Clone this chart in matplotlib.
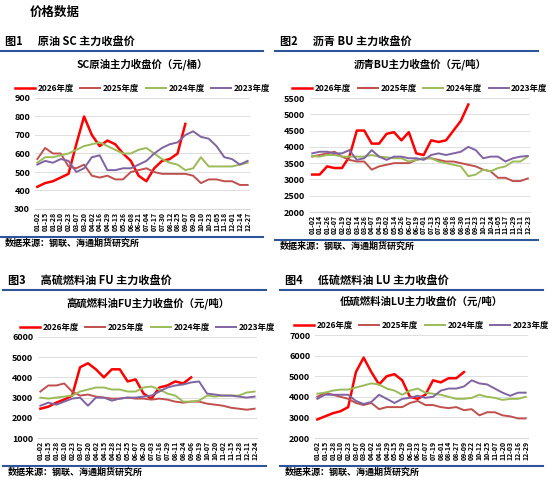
import matplotlib
matplotlib.use('Agg')
import matplotlib.pyplot as plt
from matplotlib.lines import Line2D
import numpy as np

plt.rcParams['font.family'] = ['Noto Sans CJK SC', 'DejaVu Sans']

# ---- data (values read at each tick date) ----
sc_ticks = ['01-02','01-15','01-28','02-10','02-23','03-07','03-20','04-02','04-16','04-29','05-13','05-26','06-08','06-21',
            '07-04','07-17','07-30','08-12','08-25','09-07','09-20','10-10','10-23','11-05','11-18','12-01','12-14','12-27']
sc_2026 = [420,440,450,470,490,650,800,700,640,670,650,600,560,480,450,520,560,570,600,760]
sc_2025 = [570,630,600,600,530,520,540,480,470,480,460,460,500,510,520,500,490,490,490,490,480,440,460,460,450,450,430,430]
sc_2024 = [550,580,580,590,600,620,640,650,660,640,620,600,600,620,630,600,570,550,540,510,520,580,530,530,530,530,540,550]
sc_2023 = [540,560,550,570,560,500,520,580,590,510,510,520,520,540,560,600,630,650,660,700,720,690,680,640,580,570,540,560]

bu_ticks = ['01-02','01-14','01-26','02-07','02-19','03-02','03-14','03-26','04-07','04-19','05-02','05-14','05-26','06-07','06-19',
            '07-01','07-13','07-25','08-06','08-18','08-30','09-11','09-23','10-12','10-24','11-05','11-17','11-29','12-11','12-23']
bu_2026 = [3150,3150,3400,3350,3350,3700,4500,4500,4100,4100,4400,4450,4200,4450,3800,3750,4200,4150,4200,4500,4800,5300]
bu_2025 = [3700,3750,3800,3850,3700,3600,3550,3550,3300,3400,3450,3500,3500,3500,3600,3650,3650,3600,3550,3550,3500,3450,3400,3300,3250,3050,3050,2950,2950,3030]
bu_2024 = [3720,3700,3750,3750,3700,3700,3700,3700,3750,3700,3680,3650,3650,3550,3600,3650,3650,3550,3500,3450,3400,3100,3150,3300,3250,3350,3400,3550,3550,3700]
bu_2023 = [3800,3850,3850,3800,3800,3900,3600,3650,3900,3700,3600,3700,3700,3650,3650,3600,3750,3800,3750,3800,3850,4000,3900,3650,3700,3700,3550,3650,3700,3720]

fu_ticks = ['01-02','01-15','01-28','02-10','02-23','03-07','03-20','04-02','04-15','04-28','05-12','05-25','06-07','06-20',
            '07-03','07-16','07-29','08-11','08-24','09-06','09-19','10-07','10-20','11-02','11-15','11-28','12-11','12-24']
fu_2026 = [2450,2550,2750,2900,3100,4500,4700,4400,4000,4400,4400,3800,3900,3200,2950,3500,3600,3800,3700,4000]
fu_2025 = [3300,3600,3600,3700,3300,3100,3150,3050,3000,2950,2950,3000,2950,2950,2900,2950,2900,2800,2750,2800,2800,2700,2650,2600,2500,2450,2400,2450]
fu_2024 = [3000,2950,3000,3050,3100,3300,3400,3500,3500,3400,3400,3300,3300,3500,3550,3400,3200,3100,2800,2800,2850,3100,3050,3100,3100,3100,3250,3300]
fu_2023 = [2600,2750,2650,2800,2950,3000,2600,3000,3000,2850,2950,3000,3000,3050,3100,3300,3500,3600,3650,3750,3800,3200,3150,3100,3100,3050,3000,3050]

lu_ticks = ['01-02','01-15','01-28','02-10','02-23','03-07','03-20','04-02','04-16','04-29','05-15','05-29','06-10','06-23',
            '07-07','07-19','08-01','08-14','08-27','09-09','09-22','10-12','10-25','11-07','11-20','12-03','12-16','12-29']
lu_2026 = [2900,3050,3200,3300,3500,5200,5900,5200,4600,5000,5100,4800,4000,3900,4100,4800,4700,4900,4900,5200]
lu_2025 = [4000,4200,4100,4000,3900,3700,3600,3700,3400,3500,3500,3500,3700,3800,3600,3600,3500,3450,3500,3350,3400,3100,3250,3250,3100,3050,2950,2950]
lu_2024 = [4150,4200,4300,4350,4350,4450,4550,4650,4600,4400,4300,4100,4300,4400,4200,4150,4100,4000,3900,3900,3950,4100,4000,3950,3850,3900,3900,4000]
lu_2023 = [3900,4100,4100,4100,4100,3800,3650,3750,4100,3900,3700,3900,3950,4050,3950,4000,4300,4400,4400,4500,4800,4650,4600,4400,4200,4050,4200,4200]

years = ['2026年度', '2025年度', '2024年度', '2023年度']
colors = ['#FF0000', '#C0504D', '#9BBB59', '#8064A2']
widths = [1.8, 1.4, 1.4, 1.4]
blue = '#2E5597'

W, H = 550, 490
fig = plt.figure(figsize=(5.5, 4.9), dpi=100)

def fx(px): return px / W
def fy(py): return 1 - py / H

fig.text(fx(30), fy(12), '价格数据', fontsize=9, fontweight='bold', va='center')

def panel(x0, x1, ytop, ybot, head_y, head, title, ticks, series, ylim, ystep):
    # header + rule lines
    fig.text(fx(x0 - 30), fy(head_y), head, fontsize=8, fontweight='bold', va='center')
    fig.add_artist(Line2D([fx(x0 - 35), fx(x0 + 228)], [fy(head_y + 9)] * 2, color=blue, lw=1.5))
    fig.add_artist(Line2D([fx(x0 - 35), fx(x0 + 228)], [fy(ybot + 28)] * 2, color=blue, lw=1.5))
    fig.text(fx(x0 - 30), fy(ybot + 34), '数据来源：钢联、海通期货研究所', fontsize=6.5, fontweight='bold', va='center')
    ax = fig.add_axes([fx(x0), fy(ybot), fx(x1 - x0), (ybot - ytop) / H])
    for vals, lab, c, w in zip(series, years, colors, widths):
        ax.plot(np.arange(len(vals)), vals, color=c, lw=w, label=lab)
    ax.set_xlim(-0.3, len(ticks) - 0.7)
    ax.set_ylim(*ylim)
    ax.set_yticks(np.arange(ylim[0], ylim[1] + 1, ystep))
    ax.set_xticks(np.arange(len(ticks)))
    ax.set_xticklabels(ticks, rotation=90, fontsize=5, fontweight='bold')
    ax.tick_params(axis='y', labelsize=6.5, length=0)
    ax.tick_params(axis='x', length=0, pad=2)
    for lbl in ax.get_yticklabels():
        lbl.set_fontweight('bold')
    ax.grid(axis='y', color='#D9D9D9', lw=0.6)
    for s in ['top', 'right', 'left']:
        ax.spines[s].set_visible(False)
    ax.spines['bottom'].set_color('#D9D9D9')
    ax.set_title(title, fontsize=7.5, fontweight='bold', pad=22)
    leg = ax.legend(loc='lower center', bbox_to_anchor=(0.5, 1.0), ncol=4, frameon=False,
                    fontsize=6, handlelength=2.4, columnspacing=0.8, handletextpad=0.3, borderaxespad=0.2)
    for t in leg.get_texts():
        t.set_fontweight('bold')
    return ax

panel(35, 250, 98, 209, 42, '图1      原油 SC 主力收盘价', 'SC原油主力收盘价（元/桶）',
      sc_ticks, [sc_2026, sc_2025, sc_2024, sc_2023], (300, 900), 100)
panel(310, 530, 98, 212, 42, '图2      沥青 BU 主力收盘价', '沥青BU主力收盘价（元/吨）',
      bu_ticks, [bu_2026, bu_2025, bu_2024, bu_2023], (2000, 5500), 500)
panel(38, 257, 337, 438, 281, '图3      高硫燃料油 FU 主力收盘价', '高硫燃料油FU主力收盘价（元/吨）',
      fu_ticks, [fu_2026, fu_2025, fu_2024, fu_2023], (1000, 6000), 1000)
panel(315, 528, 335, 438, 281, '图4      低硫燃料油 LU 主力收盘价', '低硫燃料油LU主力收盘价（元/吨）',
      lu_ticks, [lu_2026, lu_2025, lu_2024, lu_2023], (2000, 7000), 1000)

fig.savefig('out.png', dpi=100)
